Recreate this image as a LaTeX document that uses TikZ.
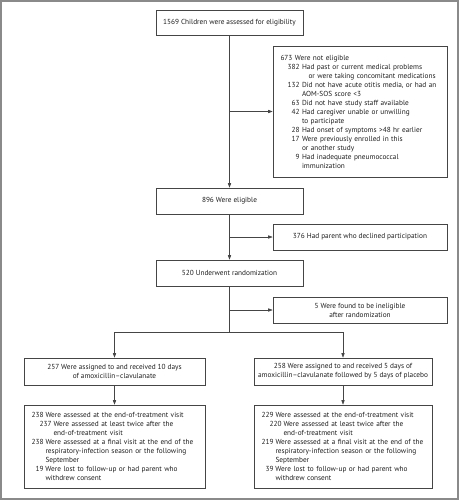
\documentclass[tikz,border=0pt]{standalone}
\usepackage{fontspec}
\setmainfont{PT Sans}
\usetikzlibrary{arrows.meta}
\definecolor{lncol}{HTML}{454545}
\definecolor{tx}{HTML}{1E1E1E}
\definecolor{fr}{HTML}{8A8A8A}
% numbered lines
\newcommand{\nA}[2]{\makebox[19pt][r]{#1}\hspace{2.5pt}#2}
\newcommand{\cA}[1]{\hspace*{21.5pt}#1}
\newcommand{\nB}[2]{\makebox[12pt][r]{#1}\hspace{2pt}#2}
\newcommand{\sB}[2]{\hspace*{8pt}\makebox[12pt][r]{#1}\hspace{2pt}#2}
\newcommand{\cB}[1]{\hspace*{14pt}#1}
\newcommand{\cS}[1]{\hspace*{22pt}#1}
\begin{document}
\begin{tikzpicture}[x=1pt,y=-1pt,
  box/.style={draw=lncol, line width=0.6pt, text=tx, font=\fontsize{7.3}{9}\selectfont,
    inner xsep=0pt, inner ysep=0pt, align=center},
  lbox/.style={box, align=left, inner xsep=7.5pt},
  arr/.style={draw=lncol, line width=0.6pt, -{Triangle[length=4.5pt,width=3.2pt]}},
  plainline/.style={draw=lncol, line width=0.6pt}]
\useasboundingbox (0,0) rectangle (459,500);
\draw[fr, line width=2pt] (1,1) rectangle (458,499);

\node[box, minimum width=147pt, minimum height=25pt] (top) at (229.5,22.5)
  {1569 Children were assessed for eligibility};
\node[lbox, text width=159pt, minimum height=131pt] (ne) at (360,111.5)
  {673 Were not eligible\\
   \nA{382}{Had past or current medical problems}\\
   \hspace*{28pt}or were taking concomitant medications\\
   \nA{132}{Did not have acute otitis media, or had an}\\
   \cA{AOM-SOS score <3}\\
   \nA{63}{Did not have study staff available}\\
   \nA{42}{Had caregiver unable or unwilling}\\
   \cA{to participate}\\
   \nA{28}{Had onset of symptoms >48 hr earlier}\\
   \nA{17}{Were previously enrolled in this}\\
   \cA{or another study}\\
   \nA{9}{Had inadequate pneumococcal}\\
   \cA{immunization}};
\node[box, minimum width=147pt, minimum height=26pt] (elig) at (229.5,201) {896 Were eligible};
\node[box, minimum width=174pt, minimum height=26pt] (decl) at (360,237)
  {376 Had parent who declined participation};
\node[box, minimum width=147pt, minimum height=26pt] (rand) at (229.5,273) {520 Underwent randomization};
\node[box, minimum width=174pt, minimum height=26pt] (inel) at (360,310)
  {5 Were found to be ineligible\\after randomization};
\node[box, minimum width=181pt, minimum height=27pt] (armL) at (114.5,371.5)
  {257 Were assigned to and received 10 days\\of amoxicillin--clavulanate};
\node[box, minimum width=178pt, minimum height=27pt] (armR) at (343,371.5)
  {258 Were assigned to and received 5 days of\\amoxicillin--clavulanate followed by 5 days of placebo};
\node[lbox, text width=166pt, minimum height=83pt] (outL) at (114.5,446.5)
  {\nB{238}{Were assessed at the end-of-treatment visit}\\
   \sB{237}{Were assessed at least twice after the}\\
   \cS{end-of-treatment visit}\\
   \nB{238}{Were assessed at a final visit at the end of the}\\
   \cB{respiratory-infection season or the following}\\
   \cB{September}\\
   \nB{19}{Were lost to follow-up or had parent who}\\
   \cB{withdrew consent}};
\node[lbox, text width=163pt, minimum height=83pt] (outR) at (343,446.5)
  {\nB{229}{Were assessed at the end-of-treatment visit}\\
   \sB{220}{Were assessed at least twice after the}\\
   \cS{end-of-treatment visit}\\
   \nB{219}{Were assessed at a final visit at the end of the}\\
   \cB{respiratory-infection season or the following}\\
   \cB{September}\\
   \nB{39}{Were lost to follow-up or had parent who}\\
   \cB{withdrew consent}};

\coordinate (split) at (229.5,332);
\draw[arr] (top.south) -- (elig.north);
\draw[arr] (top.south|-ne.west) -- (ne.west);
\draw[arr] (elig.south) -- (rand.north);
\draw[arr] (elig.south|-decl.west) -- (decl.west);
\draw[plainline] (rand.south) -- (split);
\draw[arr] (rand.south|-inel.west) -- (inel.west);
\draw[plainline] (armL.north|-split) -- (armR.north|-split);
\draw[arr] (armL.north|-split) -- (armL.north);
\draw[arr] (armR.north|-split) -- (armR.north);
\draw[arr] (armL.south) -- (outL.north);
\draw[arr] (armR.south) -- (outR.north);
\end{tikzpicture}
\end{document}
